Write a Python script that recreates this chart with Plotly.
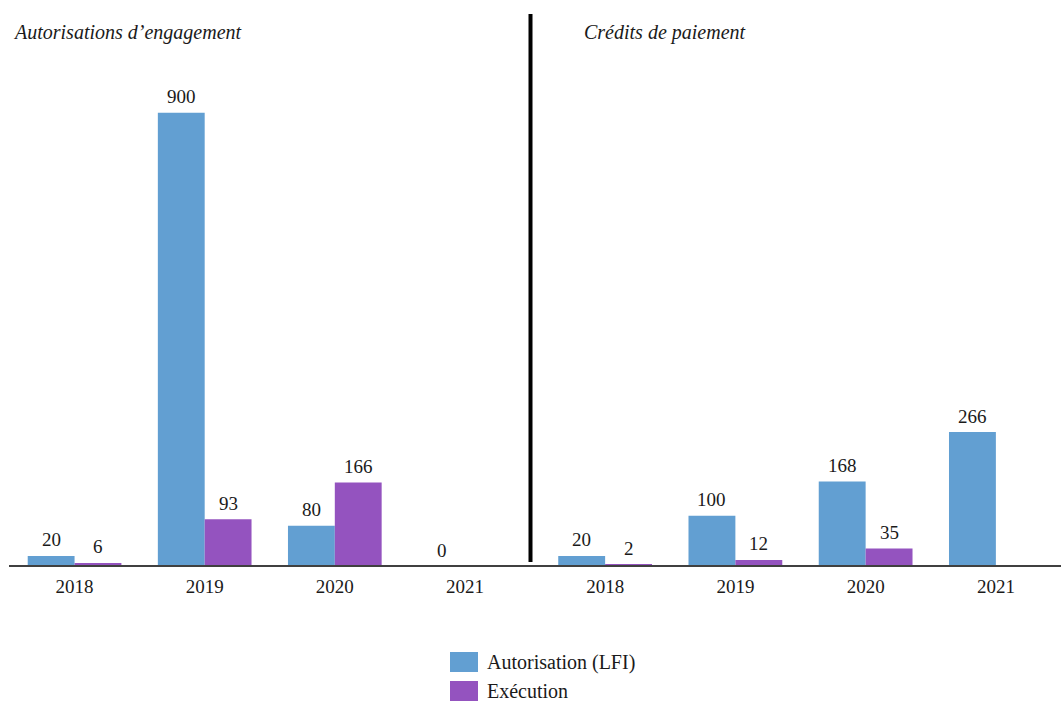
import plotly.graph_objects as go

years = ["2018", "2019", "2020", "2021"]
series_names = ["Autorisation (LFI)", "Exécution"]
panel_titles = ["Autorisations d’engagement", "Crédits de paiement"]

ae_lfi = [20, 900, 80, 0]
ae_exec = [6, 93, 166, None]
cp_lfi = [20, 100, 168, 266]
cp_exec = [2, 12, 35, None]

colors = ["#629FD2", "#9453BF"]
FONT = "Liberation Serif"
W, H = 1061, 701

def px(x):
    return x / W

def py(y):
    return 1 - y / H

fig = go.Figure()

panels = [(ae_lfi, ae_exec, "x", "y"), (cp_lfi, cp_exec, "x2", "y2")]
for lfi, exe, xa, ya in panels:
    for vals, name, col in zip([lfi, exe], series_names, colors):
        fig.add_trace(go.Bar(x=years, y=vals, name=name, marker_color=col,
                             marker_line_width=0, xaxis=xa, yaxis=ya,
                             showlegend=False))

bargap = 0.28
half = (1 - bargap) / 4
annotations = []
for lfi, exe, xa, ya in panels:
    for vals, off in [(lfi, -half), (exe, half)]:
        for i, v in enumerate(vals):
            if v is None:
                continue
            annotations.append(dict(x=i + off, y=v, xref=xa, yref=ya, text=str(v),
                                    showarrow=False, yanchor="middle", yshift=16,
                                    font=dict(family=FONT, size=19, color="#1a1a1a")))

# panel titles
annotations.append(dict(x=px(11), y=py(33), xref="paper", yref="paper", xanchor="left",
                        yanchor="middle", showarrow=False, text="<i>" + panel_titles[0] + "</i>",
                        font=dict(family=FONT, size=20, color="#1a1a1a")))
annotations.append(dict(x=px(582), y=py(33), xref="paper", yref="paper", xanchor="left",
                        yanchor="middle", showarrow=False, text="<i>" + panel_titles[1] + "</i>",
                        font=dict(family=FONT, size=20, color="#1a1a1a")))

# legend (custom)
shapes = []
leg_rows = [662, 691]
for name, col, yc in zip(series_names, colors, leg_rows):
    shapes.append(dict(type="rect", xref="paper", yref="paper", x0=px(450), x1=px(478),
                       y0=py(yc - 10), y1=py(yc + 10), fillcolor=col, line_width=0))
    annotations.append(dict(x=px(485), y=py(yc), xref="paper", yref="paper", xanchor="left",
                            yanchor="middle", showarrow=False, text=name,
                            font=dict(family=FONT, size=20, color="#1a1a1a")))

base_y = py(566)
# baseline
shapes.append(dict(type="line", xref="paper", yref="paper", x0=px(9), x1=1,
                   y0=base_y, y1=base_y, line=dict(color="#404040", width=2)))
# divider
shapes.append(dict(type="line", xref="paper", yref="paper", x0=px(530.5), x1=px(530.5),
                   y0=py(14), y1=py(562), line=dict(color="#000000", width=4)))

top_y = py(60)
yrange = [0, 1005]
axis_common = dict(type="category", showgrid=False, zeroline=False, showline=False,
                   ticks="outside", ticklen=3, tickcolor="rgba(0,0,0,0)",
                   tickfont=dict(family=FONT, size=19, color="#1a1a1a"))
fig.update_layout(
    width=W, height=H, margin=dict(l=0, r=0, t=0, b=0),
    paper_bgcolor="white", plot_bgcolor="white",
    barmode="group", bargap=bargap, bargroupgap=0,
    xaxis=dict(domain=[px(9.5), px(530)], anchor="y", **axis_common),
    xaxis2=dict(domain=[px(540), 1], anchor="y2", **axis_common),
    yaxis=dict(domain=[base_y, top_y], range=yrange, visible=False, anchor="x"),
    yaxis2=dict(domain=[base_y, top_y], range=yrange, visible=False, anchor="x2"),
    annotations=annotations, shapes=shapes, showlegend=False,
)

fig.write_html("out.html")
